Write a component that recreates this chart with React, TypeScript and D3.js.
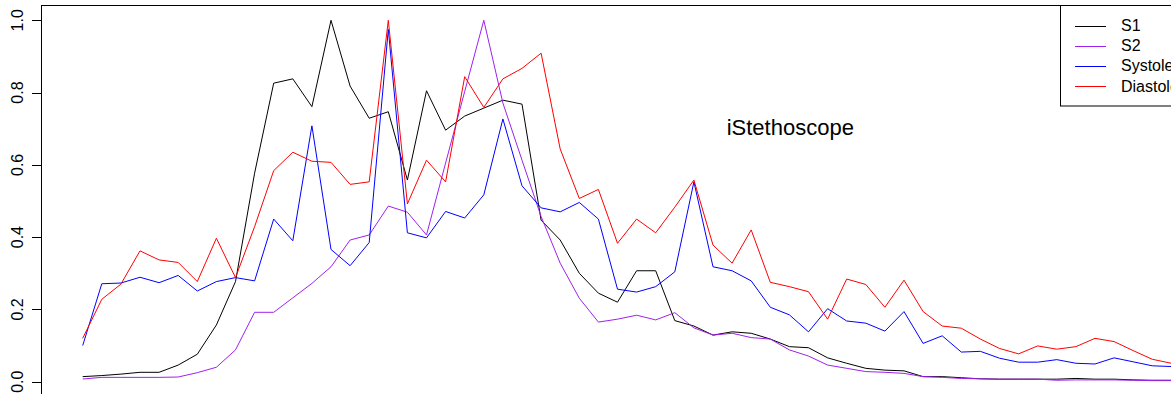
import React from "react";
import * as d3 from "d3";

// Normalised band energy per frame, four heart-sound segments
const s1 = [0.014, 0.017, 0.021, 0.026, 0.026, 0.046, 0.076, 0.157, 0.277, 0.577,
  0.826, 0.838, 0.761, 1.0, 0.818, 0.729, 0.747, 0.558, 0.805, 0.696,
  0.735, 0.757, 0.779, 0.768, 0.447, 0.392, 0.300, 0.245, 0.220, 0.307,
  0.307, 0.169, 0.154, 0.129, 0.138, 0.134, 0.118, 0.097, 0.094, 0.066,
  0.051, 0.037, 0.032, 0.030, 0.014, 0.014, 0.011, 0.008, 0.007, 0.007,
  0.007, 0.007, 0.009, 0.007, 0.007, 0.005, 0.004, 0.004];

const s2 = [0.0075, 0.012, 0.012, 0.012, 0.012, 0.013, 0.025, 0.040, 0.088, 0.192,
  0.192, 0.232, 0.272, 0.318, 0.392, 0.406, 0.486, 0.469, 0.406, 0.605,
  0.803, 1.0, 0.771, 0.613, 0.457, 0.328, 0.231, 0.165, 0.173, 0.184,
  0.171, 0.191, 0.149, 0.129, 0.134, 0.122, 0.118, 0.088, 0.071, 0.046,
  0.037, 0.028, 0.026, 0.023, 0.014, 0.012, 0.009, 0.008, 0.007, 0.007,
  0.007, 0.004, 0.005, 0.005, 0.005, 0.004, 0.003, 0.003];

const systole = [0.100, 0.271, 0.273, 0.289, 0.274, 0.294, 0.251, 0.277, 0.288, 0.279,
  0.450, 0.390, 0.708, 0.366, 0.321, 0.385, 0.975, 0.412, 0.398, 0.471,
  0.453, 0.517, 0.727, 0.542, 0.481, 0.470, 0.496, 0.450, 0.256, 0.248,
  0.263, 0.304, 0.553, 0.318, 0.307, 0.279, 0.206, 0.185, 0.138, 0.202,
  0.168, 0.162, 0.140, 0.194, 0.106, 0.127, 0.082, 0.084, 0.065, 0.054,
  0.054, 0.061, 0.051, 0.049, 0.066, 0.055, 0.044, 0.042];

const diastole = [0.120, 0.228, 0.270, 0.362, 0.337, 0.330, 0.277, 0.397, 0.288, 0.429,
  0.584, 0.635, 0.610, 0.607, 0.546, 0.553, 1.0, 0.492, 0.613, 0.553,
  0.844, 0.759, 0.838, 0.867, 0.909, 0.644, 0.507, 0.532, 0.383, 0.450,
  0.412, 0.483, 0.558, 0.378, 0.328, 0.420, 0.275, 0.263, 0.249, 0.173,
  0.284, 0.269, 0.206, 0.281, 0.194, 0.154, 0.148, 0.118, 0.092, 0.077,
  0.099, 0.090, 0.097, 0.120, 0.111, 0.086, 0.062, 0.051];

const seriesNames = ["S1", "S2", "Systole", "Diastole"];
const seriesColors = ["#000000", "#A020F0", "#0000FF", "#FF0000"];
const seriesValues = [s1, s2, systole, diastole];

const yTicks = [0, 0.2, 0.4, 0.6, 0.8, 1.0];
const titleText = "iStethoscope";

const W = 1171;
const H = 394;
const FONT = "'Liberation Sans', Arial, Helvetica, sans-serif";

export default function App() {
  const n = s1.length;
  const x = d3.scaleLinear().domain([1, n]).range([82.7, 1171.4]);
  const y = d3.scaleLinear().domain([0, 1]).range([381.7, 20.3]);

  const line = d3
    .line<number>()
    .x((_, i) => x(i + 1))
    .y((d) => y(d));

  const boxLeft = 41.5;
  const boxTop = 5.5;

  const legendLeft = 1060.5;
  const legendRow0 = 25.7;
  const legendStep = 20.1;

  return (
    <svg
      width={W}
      height={H}
      style={{ position: "absolute", left: 0, top: 0, background: "#fff" }}
      fontFamily={FONT}
    >
      <rect x={0} y={0} width={W} height={H} fill="#fff" />

      {/* series */}
      <g fill="none" strokeWidth={1} strokeLinejoin="round">
        {seriesValues.map((vals, k) => (
          <path key={seriesNames[k]} d={line(vals) || ""} stroke={seriesColors[k]} />
        ))}
      </g>

      {/* plot frame */}
      <rect
        x={boxLeft}
        y={boxTop}
        width={W + 20}
        height={H + 20}
        fill="none"
        stroke="#000"
        strokeWidth={1}
      />

      {/* y axis */}
      <g>
        <line x1={boxLeft} x2={boxLeft} y1={y(0)} y2={y(1)} stroke="#000" />
        {yTicks.map((t) => (
          <g key={t}>
            <line
              x1={32}
              x2={boxLeft}
              y1={Math.round(y(t)) + 0.5}
              y2={Math.round(y(t)) + 0.5}
              stroke="#000"
            />
            <text
              transform={`translate(22.5, ${y(t)}) rotate(-90)`}
              textAnchor="middle"
              fontSize={16}
              fill="#000"
            >
              {t.toFixed(1)}
            </text>
          </g>
        ))}
      </g>

      {/* title */}
      <text x={790.3} y={135} textAnchor="middle" fontSize={22} fill="#000">
        {titleText}
      </text>

      {/* legend */}
      <g>
        <rect
          x={legendLeft}
          y={boxTop}
          width={200}
          height={106 - boxTop}
          fill="#fff"
          stroke="#000"
          strokeWidth={1}
        />
        {seriesNames.map((name, k) => {
          const cy = legendRow0 + legendStep * k;
          return (
            <g key={name}>
              <line
                x1={1075}
                x2={1106}
                y1={Math.round(cy) + 0.5}
                y2={Math.round(cy) + 0.5}
                stroke={seriesColors[k]}
                strokeWidth={1}
              />
              <text x={1121} y={cy} dominantBaseline="central" fontSize={16} fill="#000">
                {name}
              </text>
            </g>
          );
        })}
      </g>
    </svg>
  );
}
